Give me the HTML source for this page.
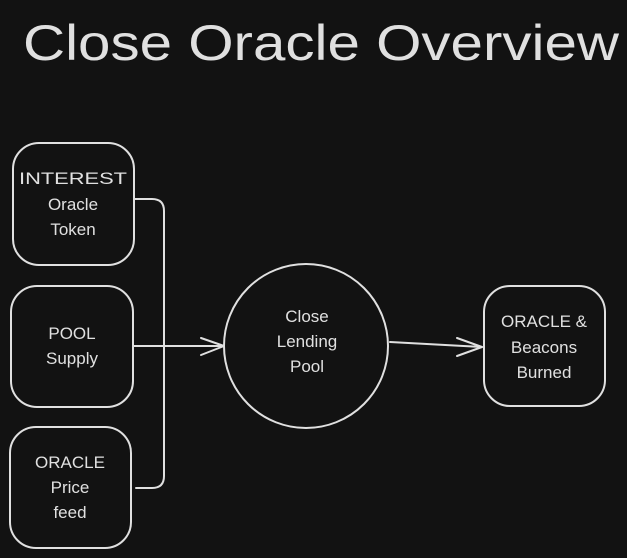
<!DOCTYPE html>
<html><head><meta charset="utf-8"><style>
html,body{margin:0;padding:0;background:#121212;}
svg{display:block}
text{font-family:"Liberation Sans",sans-serif;fill:#e0e0e0;text-anchor:middle}
</style></head><body>
<svg width="627" height="558" viewBox="0 0 627 558" xmlns="http://www.w3.org/2000/svg">
<rect width="627" height="558" fill="#121212"/>
<text x="321" y="60" font-size="50" textLength="596" lengthAdjust="spacingAndGlyphs">Close Oracle Overview</text>
<g fill="none" stroke="#e0e0e0" stroke-width="2" stroke-linecap="round" stroke-linejoin="round">
<rect x="13" y="143" width="121" height="122" rx="26"/>
<rect x="11" y="286" width="122" height="121" rx="26"/>
<rect x="10" y="427" width="121" height="121" rx="26"/>
<rect x="484" y="286" width="121" height="120" rx="26"/>
<circle cx="306" cy="346" r="82"/>
<path d="M135 199 L152 199 Q164 199 164 211 L164 476 Q164 488 152 488 L136 488"/>
<path d="M133 346 L224 346"/>
<path d="M201 338 L224 346 L201 355"/>
<path d="M390 342 L482 347"/>
<path d="M457 338 L482 347 L457 356"/>
</g>
<g font-size="17">
<text x="73" y="184" textLength="108" lengthAdjust="spacingAndGlyphs">INTEREST</text>
<text x="73" y="210">Oracle</text>
<text x="73" y="235">Token</text>
<text x="72" y="339">POOL</text>
<text x="72" y="364">Supply</text>
<text x="70" y="468">ORACLE</text>
<text x="70" y="493">Price</text>
<text x="70" y="518">feed</text>
<text x="307" y="322">Close</text>
<text x="307" y="347">Lending</text>
<text x="307" y="372">Pool</text>
<text x="544" y="327">ORACLE &amp;</text>
<text x="544" y="353">Beacons</text>
<text x="544" y="378">Burned</text>
</g>
</svg>
</body></html>
